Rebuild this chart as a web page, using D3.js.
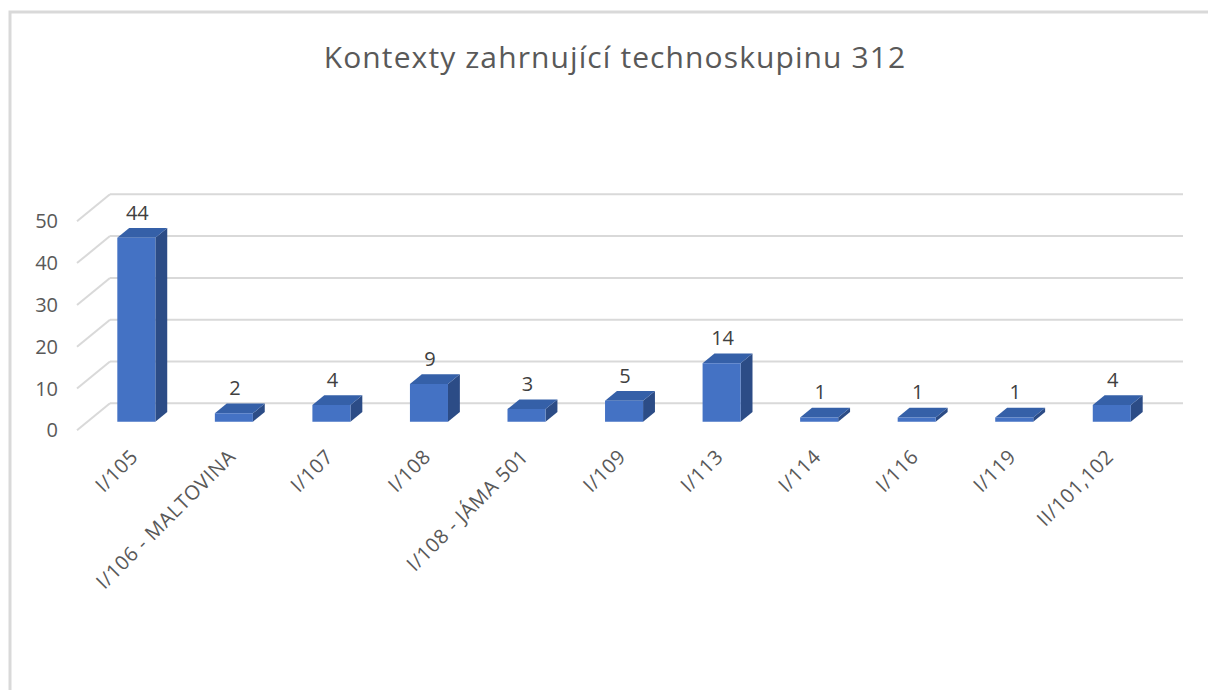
<!DOCTYPE html>
<html>
<head>
<meta charset="utf-8">
<script src="https://cdn.jsdelivr.net/npm/d3@7"></script>
<style>
  body { margin: 0; background: #fff; }
  text { font-family: "Open Sans", "Liberation Sans", sans-serif; }
</style>
</head>
<body>
<script>
var categories = ["I/105", "I/106 - MALTOVINA", "I/107", "I/108", "I/108 - JÁMA 501", "I/109", "I/113", "I/114", "I/116", "I/119", "II/101,102"];
var values = [44, 2, 4, 9, 3, 5, 14, 1, 1, 1, 4];
var yTicks = [0, 10, 20, 30, 40, 50];
var title = "Kontexty zahrnující technoskupinu 312";

var w = 1208, h = 690;
var svg = d3.select("body").append("svg").attr("width", w).attr("height", h);

// chart frame (only top and left visible)
svg.append("rect").attr("x", 10).attr("y", 12).attr("width", 1300).attr("height", 800)
  .attr("fill", "#fff").attr("stroke", "#d9d9d9").attr("stroke-width", 3);

// back wall scales
var x = d3.scaleBand().domain(categories).range([110, 1183]).padding(0);
var y = d3.scaleLinear().domain([0, 50]).range([403.3, 194.3]);

// depth vector, back wall -> front of floor
var D = [-33, 27];
var fFront = 0.68, fBack = 0.32;
function proj(px, v, f) { return [px + D[0] * f, y(v) + D[1] * f]; }

// gridlines on back wall + side wall diagonals
var grid = svg.append("g").attr("stroke", "#d9d9d9").attr("stroke-width", 2).attr("fill", "none");
yTicks.forEach(function(t) {
  grid.append("line").attr("x1", 110).attr("x2", 1183).attr("y1", y(t)).attr("y2", y(t));
  var p = proj(110, t, 1);
  grid.append("line").attr("x1", 110).attr("y1", y(t)).attr("x2", p[0]).attr("y2", p[1]);
});

// y axis labels on the front plane
svg.append("g").selectAll("text").data(yTicks).enter().append("text")
  .attr("x", 58).attr("y", function(d) { return proj(110, d, 1)[1] + 7; })
  .attr("text-anchor", "end").attr("font-size", 20).attr("fill", "#595959")
  .text(function(d) { return d; });

var barW = x.bandwidth() * 0.39;

var bars = svg.append("g").selectAll("g").data(values).enter().append("g");

function pts(arr) { return arr.map(function(p) { return p.join(","); }).join(" "); }

bars.each(function(v, i) {
  var g = d3.select(this);
  var cx = x(categories[i]) + x.bandwidth() / 2;
  var x0 = cx - barW / 2, x1 = cx + barW / 2;
  var fbl = proj(x0, 0, fFront), fbr = proj(x1, 0, fFront),
      ftl = proj(x0, v, fFront), ftr = proj(x1, v, fFront),
      bbr = proj(x1, 0, fBack), btl = proj(x0, v, fBack), btr = proj(x1, v, fBack);
  // side
  g.append("polygon").attr("points", pts([fbr, ftr, btr, bbr])).attr("fill", "#2c4c86");
  // top
  g.append("polygon").attr("points", pts([ftl, ftr, btr, btl])).attr("fill", "#3560a8");
  // front
  g.append("polygon").attr("points", pts([fbl, fbr, ftr, ftl])).attr("fill", "#4472c4");
  // value label
  g.append("text").attr("x", (ftl[0] + ftr[0]) / 2 + 1).attr("y", ftl[1] - 18)
    .attr("text-anchor", "middle").attr("font-size", 20).attr("fill", "#404040").text(v);
  // category label
  var lx = (fbl[0] + fbr[0]) / 2 + 3, ly = 458;
  svg.append("text").attr("transform", "translate(" + lx + "," + ly + ") rotate(-45)")
    .attr("text-anchor", "end").attr("font-size", 20).attr("letter-spacing", 0.6)
    .attr("fill", "#595959").text(categories[i]);
});

svg.append("text").attr("x", 615).attr("y", 68).attr("text-anchor", "middle")
  .attr("font-size", 30).attr("letter-spacing", 1.1).attr("fill", "#595959").text(title);
</script>
</body>
</html>
